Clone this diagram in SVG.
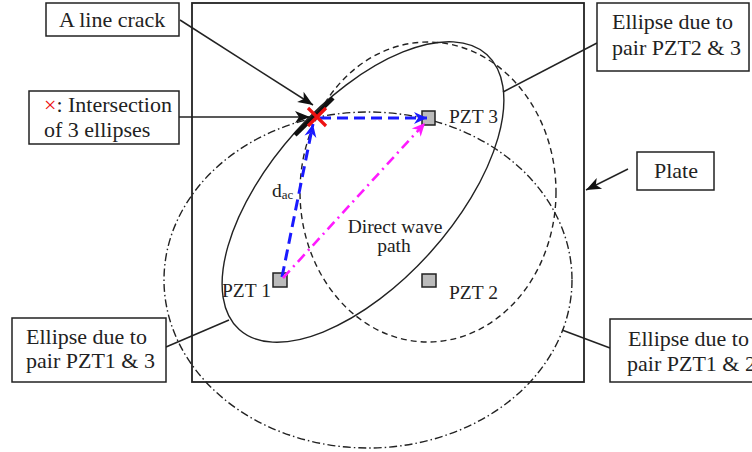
<svg xmlns="http://www.w3.org/2000/svg" width="752" height="452" viewBox="0 0 752 452">
<style>
.box{fill:#fff;stroke:#222;stroke-width:1.5}
.lbl{font-family:"Liberation Serif","Times New Roman",serif;font-size:22px;fill:#222}
.in{font-family:"Liberation Serif","Times New Roman",serif;font-size:19.5px;fill:#222}
.pzt{fill:#bbb;stroke:#222;stroke-width:1.5}
.ln{stroke:#222;stroke-width:1.5;fill:none}
.ell{fill:none;stroke:#222;stroke-width:1.4}
</style>
<defs>
<marker id="ak" viewBox="-16 -8 18 16" refX="0" refY="0" markerWidth="18" markerHeight="16" markerUnits="userSpaceOnUse" orient="auto">
<path d="M0,0 L-15,-6 L-11,0 L-15,6 Z" fill="#111"/>
</marker>
<marker id="ab" viewBox="-16 -8 18 16" refX="0" refY="0" markerWidth="18" markerHeight="16" markerUnits="userSpaceOnUse" orient="auto">
<path d="M0,0 L-13,-6 L-9,0 L-13,6 Z" fill="#1a1aff"/>
</marker>
<marker id="am" viewBox="-16 -8 18 16" refX="0" refY="0" markerWidth="18" markerHeight="16" markerUnits="userSpaceOnUse" orient="auto">
<path d="M0,0 L-13,-6 L-9,0 L-13,6 Z" fill="#ff1aff"/>
</marker>
</defs>
<rect width="752" height="452" fill="#fff"/>

<g id="plate">
<rect x="192" y="3" width="392" height="379" fill="none" stroke="#222" stroke-width="1.8"/>
</g>

<g id="ellipses">
<ellipse id="ellipse-13" class="ell" cx="363" cy="192" rx="185" ry="90.5" transform="rotate(-48 363 192)"/>
<ellipse id="ellipse-23" class="ell" cx="428" cy="192" rx="128" ry="150" stroke-dasharray="6 4"/>
<ellipse id="ellipse-12" class="ell" cx="368" cy="280" rx="204" ry="168" stroke-dasharray="8 3 1.5 3"/>
</g>

<g id="pzt1">
<rect class="pzt" x="273" y="273" width="14" height="14"/>
<text class="in" x="222" y="297">PZT 1</text>
</g>
<g id="pzt2">
<rect class="pzt" x="422" y="274" width="14" height="13"/>
<text class="in" x="449" y="299">PZT 2</text>
</g>
<g id="pzt3">
<rect class="pzt" x="422" y="111" width="13" height="14"/>
<text class="in" x="449" y="123">PZT 3</text>
</g>

<g id="labels">
<text class="in" x="272" y="197">d<tspan font-size="13px" dy="2">ac</tspan></text>
<text class="in" x="395" y="233" text-anchor="middle">Direct wave</text>
<text class="in" x="394" y="252" text-anchor="middle">path</text>
</g>

<g id="connectors">
<line class="ln" x1="180" y1="20" x2="313" y2="105" marker-end="url(#ak)"/>
<line class="ln" x1="179" y1="117" x2="310" y2="117" marker-end="url(#ak)"/>
<line class="ln" x1="597" y1="43" x2="503" y2="92"/>
<line class="ln" x1="628" y1="169" x2="586" y2="190" marker-end="url(#ak)"/>
<line class="ln" x1="166" y1="347" x2="229" y2="320"/>
<line class="ln" x1="610" y1="348" x2="562" y2="330"/>
<line x1="282" y1="277" x2="313" y2="124" stroke="#1a1aff" stroke-width="3" stroke-dasharray="11 6" marker-end="url(#ab)"/>
<line x1="320" y1="118" x2="427" y2="118" stroke="#1a1aff" stroke-width="3" stroke-dasharray="11 6" marker-end="url(#ab)"/>
<line x1="283" y1="278" x2="425" y2="123" stroke="#ff1aff" stroke-width="2.6" stroke-dasharray="10 5 2 5" marker-end="url(#am)"/>
</g>

<g id="crack">
<line x1="295" y1="135" x2="333" y2="98" stroke="#111" stroke-width="4.5"/>
<path d="M308,108 L326,126 M326,108 L308,126" stroke="#ee1111" stroke-width="3.2" fill="none"/>
</g>

<g id="box-crack">
<rect class="box" x="46" y="3" width="133" height="33"/>
<text class="lbl" x="59" y="27">A line crack</text>
</g>
<g id="box-intersection">
<rect class="box" x="29" y="91" width="150" height="53"/>
<text class="lbl" x="44" y="112"><tspan fill="#ee1111">×</tspan>: Intersection</text>
<text class="lbl" x="44" y="137">of 3 ellipses</text>
</g>
<g id="box-e23">
<rect class="box" x="597" y="3" width="152" height="68"/>
<text class="lbl" x="612" y="29">Ellipse due to</text>
<text class="lbl" x="612" y="55">pair PZT2 &amp; 3</text>
</g>
<g id="box-plate">
<rect class="box" x="637" y="152" width="77" height="38"/>
<text class="lbl" x="654" y="178">Plate</text>
</g>
<g id="box-e13">
<rect class="box" x="12" y="318" width="154" height="64"/>
<text class="lbl" x="26" y="344">Ellipse due to</text>
<text class="lbl" x="26" y="368">pair PZT1 &amp; 3</text>
</g>
<g id="box-e12">
<rect class="box" x="610" y="319" width="152" height="63"/>
<text class="lbl" x="628" y="346">Ellipse due to</text>
<text class="lbl" x="627" y="371">pair PZT1 &amp; 2</text>
</g>
</svg>
